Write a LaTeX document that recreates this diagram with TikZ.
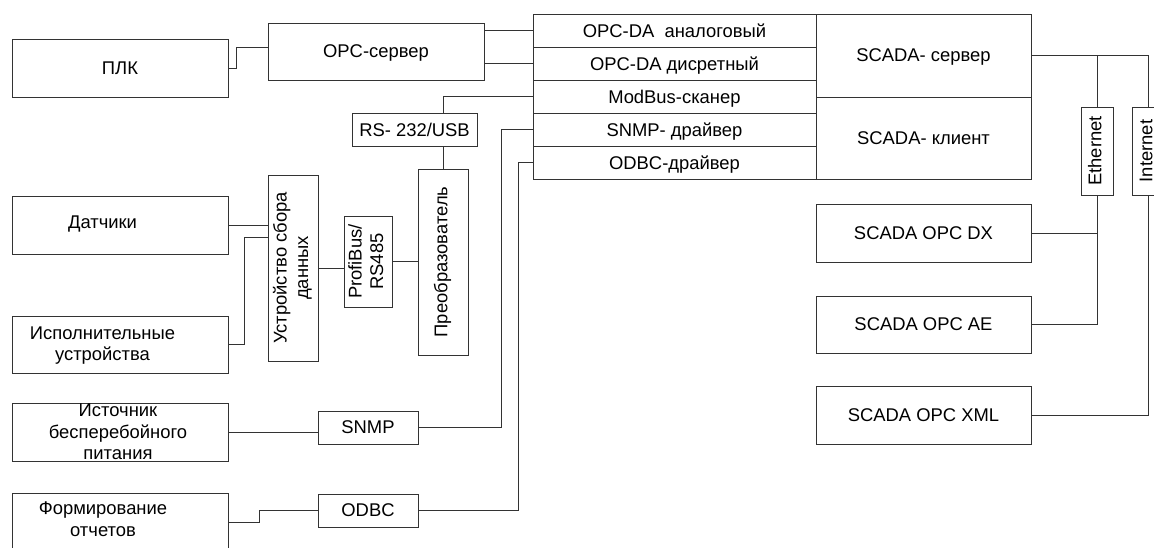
\documentclass[tikz,border=0pt]{standalone}
\usepackage{fontspec}
\setmainfont{Liberation Sans}
\usepackage{graphicx}
\usetikzlibrary{positioning, calc}
\definecolor{scline}{HTML}{333333}
\newcommand{\vtext}[1]{\rotatebox{90}{\begin{tabular}{@{}c@{}}#1\end{tabular}}}

\begin{document}
\begin{tikzpicture}[x=1pt, y=-1pt,
  box/.style={rectangle, draw=scline, line width=0.8pt, inner sep=0pt, outer sep=0pt,
              align=center, font=\fontsize{18.4}{21.5}\selectfont},
  flat/.style={box, text depth=0pt},
  wide/.style={flat, minimum width=216pt, minimum height=58pt},
  row/.style={flat, minimum width=283pt, minimum height=33pt},
  txt/.style={inner sep=0pt, align=center, font=\fontsize{18.4}{21.5}\selectfont},
  link/.style={draw=scline, line width=0.8pt}]
  \useasboundingbox (0,0) rectangle (1154,547);

  % left column
  \node[wide] (plk) at (120,68) {ПЛК};
  \node[wide, label={[txt, xshift=-17.5pt, yshift=1pt]center:Датчики}] (dat) at (120,225) {};
  \node[wide, minimum height=57pt,
        label={[txt, xshift=-17.5pt, yshift=-1pt]center:Исполнительные\\устройства}] (isp) at (120,344.5) {};
  \node[wide, label={[txt, xshift=-2pt, yshift=0pt]center:Источник\\бесперебойного\\питания}] (ist) at (120,432) {};
  \node[wide, label={[txt, xshift=-17pt, yshift=3pt]center:Формирование\\отчетов}] (form) at (120,522) {};

  % middle
  \node[flat, minimum width=216pt, minimum height=57pt] (opcsrv) at (376,51.5) {OPC-сервер};
  \node[flat, minimum width=125pt, minimum height=33pt] (rs) at (414.5,129.5) {RS- 232/USB};
  \node[box, minimum width=50pt, minimum height=186pt] (usb) at (293,268) {\vtext{Устройство сбора\\данных}};
  \node[box, minimum width=48pt, minimum height=91pt] (prof) at (368,261.5) {\vtext{ProfiBus/\\RS485}};
  \node[box, minimum width=50pt, minimum height=186pt] (preo) at (443,262) {\vtext{Преобразователь}};
  \node[flat, minimum width=100pt, minimum height=33pt] (snmp) at (368,427.5) {SNMP};
  \node[flat, minimum width=100pt, minimum height=33pt] (odbc) at (368,510.5) {ODBC};

  % driver stack
  \node[row] (opca) at (674.5,30.5) {OPC-DA~ аналоговый};
  \node[row, below=0pt of opca] (opcd) {OPC-DA дисретный};
  \node[row, below=0pt of opcd] (mod) {ModBus-сканер};
  \node[row, below=0pt of mod] (snmpd) {SNMP- драйвер};
  \node[row, below=0pt of snmpd] (odbcd) {ODBC-драйвер};
  \node[flat, minimum width=215pt, minimum height=83pt, anchor=north west] (scsrv) at (opca.north east) {SCADA- сервер};
  \node[flat, minimum width=215pt, minimum height=82pt, below=0pt of scsrv] (sccli) {SCADA- клиент};

  % right column
  \node[box, minimum width=32pt, minimum height=88pt] (eth) at (1097,151) {\vtext{Ethernet}};
  \node[box, minimum width=32pt, minimum height=88pt] (inet) at (1148,151) {\vtext{Internet}};
  \node[flat, minimum width=215pt, minimum height=58pt] (dx) at (923.5,233) {SCADA OPC DX};
  \node[flat, minimum width=215pt, minimum height=57pt] (ae) at (923.5,324.5) {SCADA OPC AE};
  \node[flat, minimum width=215pt, minimum height=58pt] (xml) at (923.5,415) {SCADA OPC XML};

  % connectors
  \draw[link] (plk.east) -- ++(8,0) |- ([yshift=4.5pt]opcsrv.west);
  \draw[link] (opcsrv.east |- opca) -- (opca.west);
  \draw[link] (opcsrv.east |- opcd) -- (opcd.west);
  \draw[link] (mod.west) -| (preo.north |- rs.north);
  \draw[link] (preo.north |- rs.south) -- (preo.north);
  \draw[link] (dat.east) -- (dat.east -| usb.west);
  \draw[link] (isp.east) -- ++(16,0) |- ([yshift=31pt]usb.west);
  \draw[link] (usb.east) -- (usb.east -| prof.west);
  \draw[link] (prof.east) -- (prof.east -| preo.west);
  \draw[link] (ist.east) -- (ist.east -| snmp.west);
  \draw[link] (snmpd.west) -- ++(-32,0) |- (snmp.east);
  \draw[link] (odbcd.west) -- ++(-15,0) |- (odbc.east);
  \draw[link] (form.east) -- ++(31,0) |- (odbc.west);
  \draw[link] (scsrv.east) -| (inet.north);
  \draw[link] (eth.north |- scsrv.east) -- (eth.north);
  \draw[link] (eth.south) |- (ae.east);
  \draw[link] (dx.east) -- (dx.east -| eth.south);
  \draw[link] (inet.south) |- (xml.east);
\end{tikzpicture}
\end{document}
